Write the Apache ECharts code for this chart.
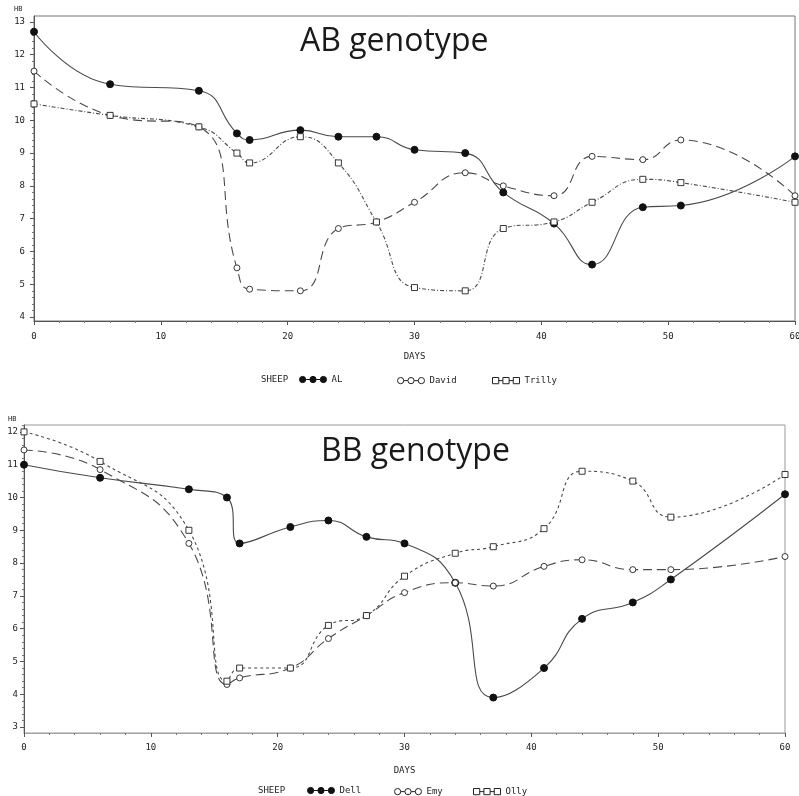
<!DOCTYPE html>
<html>
<head>
<meta charset="utf-8">
<script src="https://cdn.jsdelivr.net/npm/echarts@6/dist/echarts.min.js"></script>
<style>
html,body{margin:0;padding:0;background:#fff;}
#chart{width:799px;height:796px;}
</style>
</head>
<body>
<div id="chart"></div>
<script>
// ---- data ----
var days = [0, 6, 13, 16, 17, 21, 24, 27, 30, 34, 37, 41, 44, 48, 51, 60];
var alValues     = [12.7, 11.1, 10.9, 9.6, 9.4, 9.7, 9.5, 9.5, 9.1, 9.0, 7.8, 6.85, 5.6, 7.35, 7.4, 8.9];
var davidValues  = [11.5, 10.15, 9.8, 5.5, 4.85, 4.8, 6.7, 6.9, 7.5, 8.4, 8.0, 7.7, 8.9, 8.8, 9.4, 7.7];
var trillyValues = [10.5, 10.15, 9.8, 9.0, 8.7, 9.5, 8.7, 6.9, 4.9, 4.8, 6.7, 6.9, 7.5, 8.2, 8.1, 7.5];
var dellValues   = [11.0, 10.6, 10.25, 10.0, 8.6, 9.1, 9.3, 8.8, 8.6, 7.4, 3.9, 4.8, 6.3, 6.8, 7.5, 10.1];
var emyValues    = [11.45, 10.85, 8.6, 4.3, 4.5, 4.8, 5.7, 6.4, 7.1, 7.4, 7.3, 7.9, 8.1, 7.8, 7.8, 8.2];
var ollyValues   = [12.0, 11.1, 9.0, 4.4, 4.8, 4.8, 6.1, 6.4, 7.6, 8.3, 8.5, 9.05, 10.8, 10.5, 9.4, 10.7];
var xTicks = [0, 10, 20, 30, 40, 50, 60];
var yTicksTop = [4, 5, 6, 7, 8, 9, 10, 11, 12, 13];
var yTicksBottom = [3, 4, 5, 6, 7, 8, 9, 10, 11, 12];
var titleTop = 'AB genotype';
var titleBottom = 'BB genotype';
var sheepLabel = 'SHEEP';
var yName = 'HB';
var xName = 'DAYS';
var topNames = ['AL', 'David', 'Trilly'];
var bottomNames = ['Dell', 'Emy', 'Olly'];

function pairs(vals) { return days.map(function (d, i) { return [d, vals[i]]; }); }

var mono = 'DejaVu Sans Mono';
var lineColor = '#4a4a4a';
var circles3 = 'path://M0.5,3.5 A3,3 0 1,0 6.5,3.5 A3,3 0 1,0 0.5,3.5 Z M6.5,3.5 L10.5,3.5 M10.5,3.5 A3,3 0 1,0 16.5,3.5 A3,3 0 1,0 10.5,3.5 Z M16.5,3.5 L20.5,3.5 M20.5,3.5 A3,3 0 1,0 26.5,3.5 A3,3 0 1,0 20.5,3.5 Z';
var squares3 = 'path://M0.5,0.5 L6.5,0.5 L6.5,6.5 L0.5,6.5 Z M6.5,3.5 L10.5,3.5 M10.5,0.5 L16.5,0.5 L16.5,6.5 L10.5,6.5 Z M16.5,3.5 L20.5,3.5 M20.5,0.5 L26.5,0.5 L26.5,6.5 L20.5,6.5 Z';

function xAxisCfg(gridIndex, gap, margin, dotted) {
  return {
    type: 'value', gridIndex: gridIndex, min: 0, max: 60, interval: 10,
    name: xName, nameLocation: 'middle', nameGap: gap,
    nameTextStyle: { fontFamily: mono, fontSize: 9, color: '#222' },
    axisLine: { lineStyle: { color: dotted ? '#999' : '#555', width: 1, type: dotted ? 'dotted' : 'solid' } },
    axisTick: { show: true, length: 4, lineStyle: { color: '#555' } },
    minorTick: { show: true, splitNumber: 5, length: 2, lineStyle: { color: '#777' } },
    axisLabel: { fontFamily: mono, fontSize: 9, color: '#222', margin: margin, customValues: xTicks },
    splitLine: { show: false }
  };
}
function yAxisCfg(gridIndex, min, max, ticks, margin) {
  return {
    type: 'value', gridIndex: gridIndex, min: min, max: max, splitNumber: 9,
    axisLine: { show: true, lineStyle: { color: '#555', width: 1 } },
    axisTick: { show: true, length: 4, customValues: ticks, lineStyle: { color: '#555' } },
    minorTick: { show: true, splitNumber: 5, length: 2, lineStyle: { color: '#777' } },
    axisLabel: { fontFamily: mono, fontSize: 9, color: '#222', margin: margin, customValues: ticks },
    splitLine: { show: false }
  };
}
function lineSeries(name, vals, idx, kind) {
  var s = {
    name: name, type: 'line', xAxisIndex: idx, yAxisIndex: idx,
    data: pairs(vals), smooth: 0.5, z: 3,
    lineStyle: { color: lineColor, width: 1.1 },
    itemStyle: { color: '#111', borderColor: '#111', borderWidth: 1 }
  };
  if (kind === 'filled') {
    s.symbol = 'circle'; s.symbolSize = 7;
    s.lineStyle.type = 'solid';
  } else if (kind === 'circle') {
    s.symbol = 'circle'; s.symbolSize = 6;
    s.lineStyle.type = [9, 5];
    s.itemStyle = { color: '#fff', borderColor: '#222', borderWidth: 0.9 };
  } else {
    s.symbol = 'rect'; s.symbolSize = 6;
    s.lineStyle.type = kind === 'square' ? [4, 2, 1, 2] : [3, 3];
    s.itemStyle = { color: '#fff', borderColor: '#222', borderWidth: 0.9 };
  }
  return s;
}
function legendItem(name, icon, filled, left, top) {
  return {
    left: left, top: top, orient: 'horizontal', itemWidth: 27, itemHeight: 7, itemGap: 4,
    textStyle: { fontFamily: mono, fontSize: 9, color: '#222' },
    data: [{ name: name, icon: icon,
      itemStyle: filled ? { color: '#111', borderColor: '#111', borderWidth: 1 }
                        : { color: 'none', borderColor: '#222', borderWidth: 1 } }]
  };
}

var option = {
  backgroundColor: '#fff',
  animation: false,
  title: [
    { text: titleTop, left: 295, top: 21, textStyle: { fontFamily: 'Open Sans', fontSize: 32, fontWeight: 'normal', color: '#1a1a1a' } },
    { text: titleBottom, left: 316, top: 431, textStyle: { fontFamily: 'Open Sans', fontSize: 32, fontWeight: 'normal', color: '#1a1a1a' } },
    { text: sheepLabel, left: 256, top: 370, textStyle: { fontFamily: mono, fontSize: 9, fontWeight: 'normal', color: '#222' } },
    { text: sheepLabel, left: 253, top: 781, textStyle: { fontFamily: mono, fontSize: 9, fontWeight: 'normal', color: '#222' } },
    { text: yName, left: 9, top: 1, textStyle: { fontFamily: mono, fontSize: 7, fontWeight: 'normal', color: '#222' } },
    { text: yName, left: 3, top: 411, textStyle: { fontFamily: mono, fontSize: 7, fontWeight: 'normal', color: '#222' } }
  ],
  legend: [
    legendItem(topNames[0], circles3, true, 294, 370),
    legendItem(topNames[1], circles3, false, 390, 370),
    legendItem(topNames[2], squares3, false, 485, 370),
    legendItem(bottomNames[0], circles3, true, 302, 781),
    legendItem(bottomNames[1], circles3, false, 387, 781),
    legendItem(bottomNames[2], squares3, false, 466, 781)
  ],
  grid: [
    { left: 34, top: 16, width: 761, height: 305, outerBoundsMode: 'none', containLabel: false, show: true, borderColor: '#777', borderWidth: 1, backgroundColor: 'transparent' },
    { left: 24, top: 425, width: 761, height: 308, outerBoundsMode: 'none', containLabel: false, show: true, borderColor: '#999', borderWidth: 1, backgroundColor: 'transparent' }
  ],
  xAxis: [xAxisCfg(0, 31, 11, false), xAxisCfg(1, 33, 10, true)],
  yAxis: [yAxisCfg(0, 3.88, 13.18, yTicksTop, 9), yAxisCfg(1, 2.82, 12.21, yTicksBottom, 6)],
  series: [
    lineSeries(topNames[0], alValues, 0, 'filled'),
    lineSeries(topNames[1], davidValues, 0, 'circle'),
    lineSeries(topNames[2], trillyValues, 0, 'square'),
    lineSeries(bottomNames[0], dellValues, 1, 'filled'),
    lineSeries(bottomNames[1], emyValues, 1, 'circle'),
    lineSeries(bottomNames[2], ollyValues, 1, 'square2')
  ]
};

var chart = echarts.init(document.getElementById('chart'), null, { renderer: 'canvas' });
chart.setOption(option);
</script>
</body>
</html>
